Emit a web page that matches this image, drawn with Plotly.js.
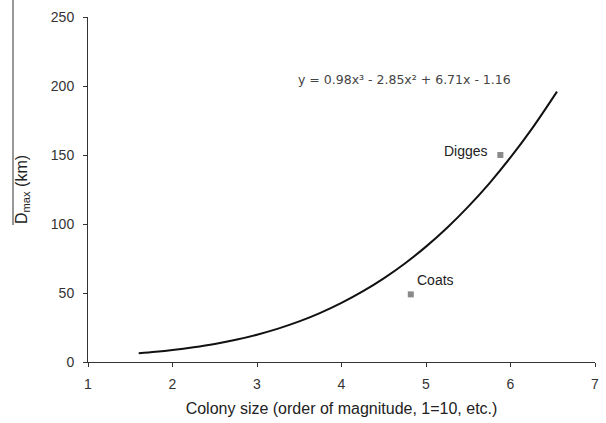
<!DOCTYPE html>
<html>
<head>
<meta charset="utf-8">
<script src="https://cdn.plot.ly/plotly-3.0.1.min.js"></script>
<style>html,body{margin:0;padding:0;background:#fff;}#chart{width:606px;height:423px;}</style>
</head>
<body>
<div id="chart"></div>
<script>
// Trend curve
var curveX = [1.6, 1.8, 2.0, 2.25, 2.5, 2.75, 3.0, 3.25, 3.5, 3.75, 4.0, 4.25, 4.5, 4.75, 5.0, 5.25, 5.5, 5.75, 6.0, 6.25, 6.55];
var curveY = [6.3, 7.4, 8.7, 10.7, 13.1, 16.1, 19.8, 24.2, 29.4, 35.6, 42.8, 51.1, 60.6, 71.4, 83.6, 97.3, 112.6, 129.5, 148.2, 168.7, 195.9];
// Colonies
var colonyNames = ["Digges", "Coats"];
var colonyX = [5.88, 4.82];
var colonyY = [150, 49];
var equationText = "y = 0.98x³ - 2.85x² + 6.71x - 1.16";
var xTicks = [1, 2, 3, 4, 5, 6, 7];
var yTicks = [0, 50, 100, 150, 200, 250];

var font = "Liberation Sans, Arial, sans-serif";
var traces = [
  {x: curveX, y: curveY, mode: "lines", type: "scatter",
   line: {color: "#111", width: 2, shape: "spline", smoothing: 1}, hoverinfo: "none"},
  {x: colonyX, y: colonyY, mode: "markers", type: "scatter",
   marker: {symbol: "square", size: 6, color: "#8a8a8a"}, hoverinfo: "none"}
];
var annotations = [
  {x: colonyX[0], y: colonyY[0], text: colonyNames[0], showarrow: false,
   xanchor: "right", yanchor: "bottom", xshift: -10, yshift: -6,
   font: {family: font, size: 14, color: "#222"}},
  {x: colonyX[1], y: colonyY[1], text: colonyNames[1], showarrow: false,
   xanchor: "left", yanchor: "bottom", xshift: 4, yshift: 4,
   font: {family: font, size: 14, color: "#222"}},
  {x: 4.75, y: 205, text: equationText, showarrow: false,
   font: {family: "DejaVu Sans, sans-serif", size: 12.5, color: "#444"}}
];
var layout = {
  width: 606, height: 423,
  margin: {l: 88, r: 11, t: 17, b: 61},
  paper_bgcolor: "#fff", plot_bgcolor: "#fff",
  showlegend: false,
  font: {family: font, color: "#333"},
  xaxis: {range: [1, 7], tickvals: xTicks, ticktext: xTicks.map(String),
    showgrid: false, zeroline: false, showline: true, linecolor: "#333", linewidth: 1,
    ticks: "outside", ticklen: 4, tickcolor: "#333", ticklabelstandoff: 5,
    tickfont: {family: font, size: 14, color: "#333"},
    title: {text: "Colony size (order of magnitude, 1=10, etc.)", standoff: 12,
      font: {family: font, size: 16, color: "#222"}}},
  yaxis: {range: [0, 250], tickvals: yTicks, ticktext: yTicks.map(String),
    showgrid: false, zeroline: false, showline: true, linecolor: "#333", linewidth: 1,
    ticks: "outside", ticklen: 4, tickcolor: "#333", ticklabelstandoff: 6,
    tickfont: {family: font, size: 14, color: "#333"},
    title: {text: "D<sub>max</sub> (km)", standoff: 19,
      font: {family: font, size: 16, color: "#222"}}},
  annotations: annotations,
  shapes: [{type: "line", xref: "paper", yref: "paper",
    x0: (13 - 88) / 507, x1: (13 - 88) / 507,
    y0: (362 - 225) / 345, y1: (362 - 0) / 345,
    line: {color: "#333", width: 1}}]
};
Plotly.newPlot("chart", traces, layout, {displayModeBar: false, staticPlot: true});
</script>
</body>
</html>
